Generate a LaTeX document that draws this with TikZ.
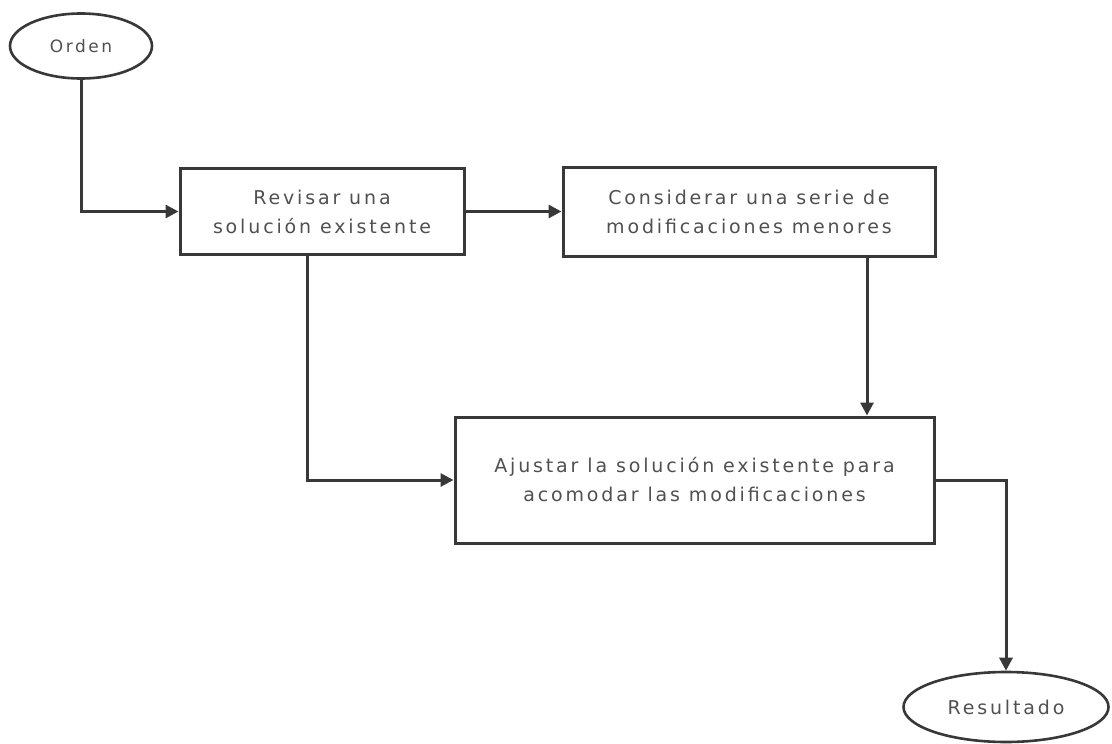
\documentclass[tikz,border=0pt]{standalone}
\usepackage{fontspec}
\setmainfont[LetterSpace=15]{DejaVu Sans}
\usetikzlibrary{arrows.meta,shapes.geometric}
\definecolor{ln}{HTML}{383838}
\definecolor{tx}{HTML}{505050}
\tikzset{
  x=1pt, y=-1pt,
  every node/.style={font=\fontsize{19}{29}\selectfont, text=tx},
  procbox/.style={draw=ln, line width=3pt, rectangle, align=center, inner sep=0pt},
  term/.style={draw=ln, line width=2.6pt, ellipse, inner sep=0pt},
  conn/.style={draw=ln, line width=3pt, -{Triangle[length=13pt,width=13pt]}}
}
\begin{document}
\begin{tikzpicture}
\useasboundingbox (0,0) rectangle (1112,744);
\node[term, minimum width=142pt, minimum height=65pt, font=\fontsize{17}{20}\selectfont] (orden) at (81,46) {Orden};
\node[procbox, minimum width=284pt, minimum height=86pt] (b1) at (322,211.5) {Revisar una\\solución existente};
\node[procbox, minimum width=372pt, minimum height=89pt] (b2) at (749,211.5) {Considerar una serie de\\modificaciones menores};
\node[procbox, minimum width=479pt, minimum height=126pt] (b3) at (694.5,480) {Ajustar la solución existente para\\acomodar las modificaciones};
\node[term, minimum width=205pt, minimum height=70pt] (res) at (1006,707) {Resultado};
\coordinate (xa) at (867,0);
\coordinate (xb) at (307,0);
\draw[conn] (orden.south) |- (b1.west);
\draw[conn] (b1.east) -- (b2.west);
\draw[conn] (b2.south -| xa) -- (b3.north -| xa);
\draw[conn] (b1.south -| xb) |- (b3.west);
\draw[conn] (b3.east) -| (res.north);
\end{tikzpicture}
\end{document}
